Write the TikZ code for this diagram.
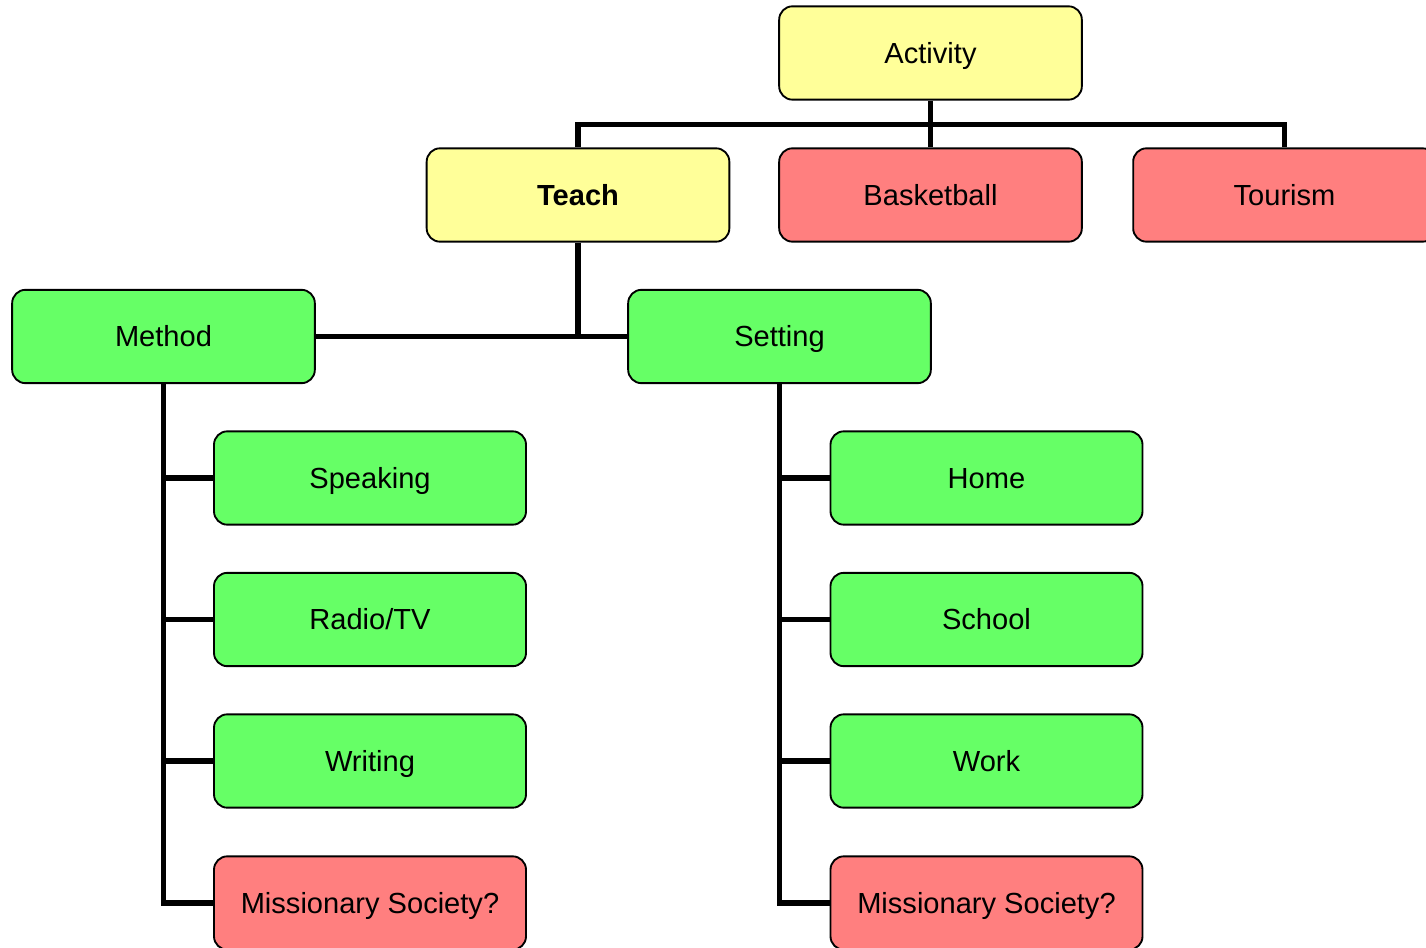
\documentclass[tikz,border=0pt]{standalone}
\usepackage{fontspec}
\setmainfont{Liberation Sans}
\definecolor{yelc}{HTML}{FFFF99}
\definecolor{redc}{HTML}{FF7F7F}
\definecolor{grnc}{HTML}{66FF66}
\begin{document}
\begin{tikzpicture}[x=0.75pt,y=-0.75pt,
  box/.style={draw,line width=1.4pt,rounded corners=10pt,minimum width=227pt,minimum height=70pt,inner sep=0pt,text height=15.6pt,text depth=0pt,font=\fontsize{21.8}{25}\selectfont},
  wbox/.style={box,minimum width=234pt},
  yel/.style={fill=yelc},
  rd/.style={fill=redc},
  gr/.style={fill=grnc},
  conn/.style={line width=3.8pt}]
\useasboundingbox (0,0) rectangle (1426,948);
\clip (0,0) rectangle (1426,948);
\node[box,yel] (act) at (930.5,53) {Activity};
\node[box,yel,font=\fontsize{21.8}{25}\selectfont\bfseries] (teach) at (578,195) {Teach};
\node[box,rd] (bask) at (930.5,195) {Basketball};
\node[box,rd] (tour) at (1284.5,195) {Tourism};
\node[box,gr] (method) at (163.5,336.5) {Method};
\node[box,gr] (setting) at (779.5,336.5) {Setting};
\node[wbox,gr] (speak) at (370,478) {Speaking};
\node[wbox,gr] (radio) at (370,619.5) {Radio/TV};
\node[wbox,gr] (writ) at (370,761) {Writing};
\node[wbox,rd] (miss1) at (370,903) {Missionary Society?};
\node[wbox,gr] (home) at (986.5,478) {Home};
\node[wbox,gr] (school) at (986.5,619.5) {School};
\node[wbox,gr] (work) at (986.5,761) {Work};
\node[wbox,rd] (miss2) at (986.5,903) {Missionary Society?};
\draw[conn] (act.south) -- ++(0,24) coordinate (j1);
\draw[conn] (teach.north) |- (j1) -| (tour.north);
\draw[conn] (j1) -- (bask.north);
\draw[conn] (method.east) -- (setting.west);
\draw[conn] (teach.south) -- (teach.south |- method.east);
\foreach \c in {speak,radio,writ,miss1} \draw[conn] (method.south) |- (\c.west);
\foreach \c in {home,school,work,miss2} \draw[conn] (setting.south) |- (\c.west);
\end{tikzpicture}
\end{document}
